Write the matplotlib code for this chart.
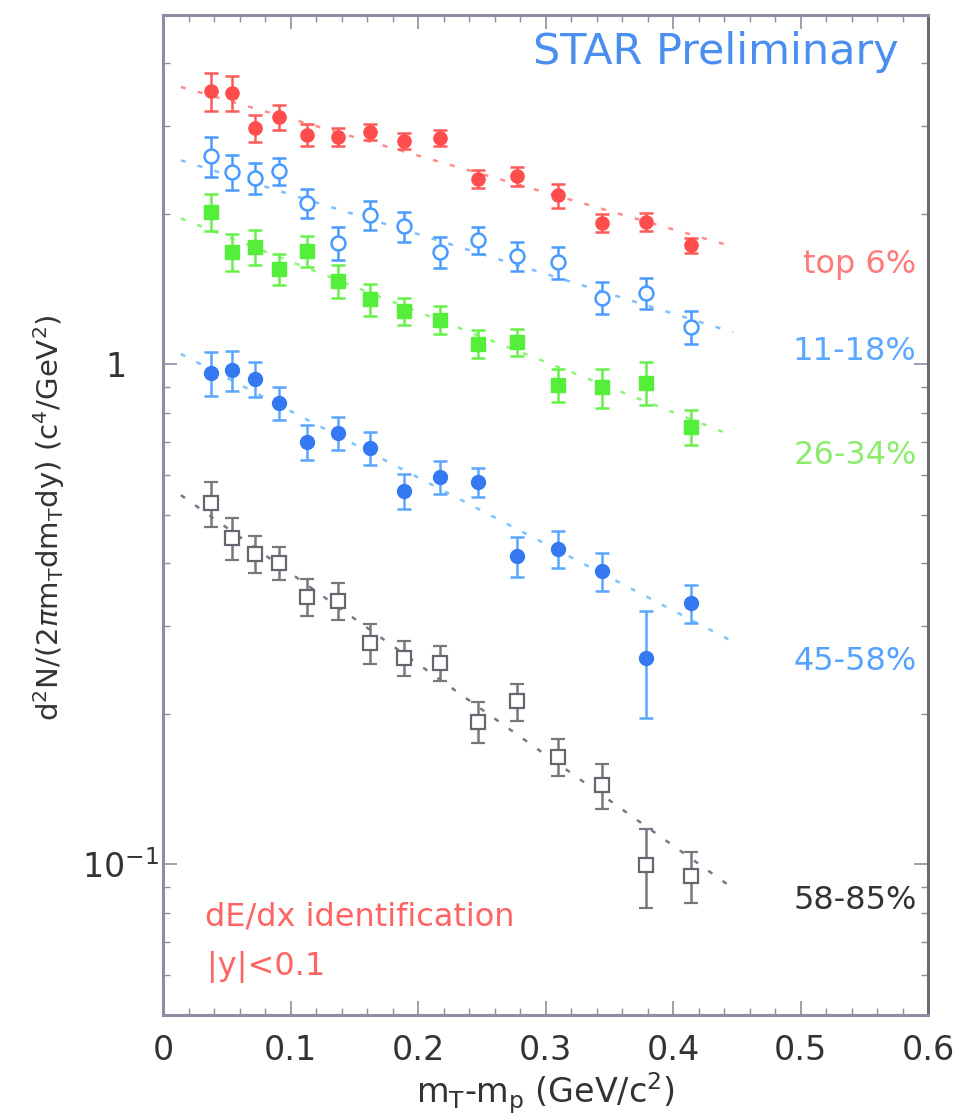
import matplotlib
matplotlib.use("Agg")
import matplotlib.pyplot as plt
from matplotlib.ticker import FixedLocator, NullFormatter, LogLocator

plt.rcParams['font.family'] = ['DejaVu Sans']
plt.rcParams['mathtext.fontset'] = 'dejavusans'

# transverse-mass bins, m_T - m_p (GeV/c^2)
mt = [0.038, 0.054, 0.072, 0.091, 0.113, 0.137, 0.162, 0.189, 0.217,
      0.247, 0.278, 0.310, 0.344, 0.379, 0.414]

# invariant yields per centrality class
top6 = [3.52, 3.49, 2.97, 3.13, 2.88, 2.85, 2.92, 2.80, 2.84,
        2.35, 2.38, 2.18, 1.92, 1.93, 1.73]
top6_err = [0.30, 0.28, 0.18, 0.18, 0.15, 0.12, 0.11, 0.10, 0.10,
            0.10, 0.10, 0.12, 0.08, 0.08, 0.06]

c11_18 = [2.61, 2.43, 2.36, 2.44, 2.10, 1.75, 1.99, 1.89, 1.68,
          1.77, 1.65, 1.60, 1.36, 1.39, 1.19]
c11_18_err = [0.24, 0.20, 0.17, 0.15, 0.14, 0.13, 0.13, 0.13, 0.12,
              0.11, 0.11, 0.12, 0.10, 0.10, 0.09]

c26_34 = [2.02, 1.68, 1.72, 1.55, 1.69, 1.47, 1.35, 1.28, 1.23,
          1.10, 1.11, 0.91, 0.90, 0.92, 0.75]
c26_34_err = [0.17, 0.14, 0.14, 0.11, 0.12, 0.11, 0.10, 0.08, 0.08,
              0.07, 0.07, 0.07, 0.08, 0.09, 0.06]

c45_58 = [0.962, 0.975, 0.935, 0.838, 0.700, 0.730, 0.681, 0.558, 0.596,
          0.582, 0.414, 0.428, 0.386, 0.259, 0.333]
c45_58_err = [0.098, 0.089, 0.076, 0.064, 0.057, 0.055, 0.052, 0.045, 0.045,
              0.039, 0.038, 0.037, 0.033, 0.063, 0.029]

c58_85 = [0.528, 0.450, 0.418, 0.401, 0.343, 0.337, 0.277, 0.259, 0.253,
          0.193, 0.212, 0.164, 0.144, 0.0998, 0.0948]
c58_85_err = [0.054, 0.043, 0.036, 0.030, 0.029, 0.029, 0.025, 0.021, 0.020,
              0.018, 0.018, 0.014, 0.015, 0.018, 0.011]

# exponential fits (straight lines on the log scale): end points
fit_x = [0.014, 0.447]
fit_top6 = [3.59, 1.72]
fit_11_18 = [2.56, 1.16]
fit_26_34 = [1.96, 0.72]
fit_45_58 = [1.05, 0.279]
fit_58_85 = [0.548, 0.0896]

class_labels = ["top 6%", "11-18%", "26-34%", "45-58%", "58-85%"]

x_ticks = [0, 0.1, 0.2, 0.3, 0.4, 0.5, 0.6]
x_tick_labels = ["0", "0.1", "0.2", "0.3", "0.4", "0.5", "0.6"]
y_ticks = [0.1, 1]
y_tick_labels = [r"$10^{-1}$", "1\u2007\u2008"]

fig = plt.figure(figsize=(9.59, 11.2), dpi=100)
ax = fig.add_axes([0.170, 0.0938, 0.7977, 0.8928])
ax.set_yscale('log')
ax.set_xlim(0, 0.6)
ax.set_ylim(0.05, 5)

series = [
    (top6, top6_err, fit_top6, dict(marker='o', ms=9.5, mfc='#ff4d4d', mec='#ff4d4d'),
     '#ff5a5a', '#ff8c8c', '#ff7a7a'),
    (c11_18, c11_18_err, fit_11_18, dict(marker='o', ms=10, mfc='white', mec='#4a9bff', mew=1.8),
     '#4a9bff', '#7fbfff', '#5aa8ff'),
    (c26_34, c26_34_err, fit_26_34, dict(marker='s', ms=10.5, mfc='#55ee3a', mec='#55ee3a'),
     '#66f04a', '#8ff27a', '#8cec6c'),
    (c45_58, c45_58_err, fit_45_58, dict(marker='o', ms=10, mfc='#3479f2', mec='#3479f2'),
     '#5aa5ff', '#7fc4ff', '#55a2ff'),
    (c58_85, c58_85_err, fit_58_85, dict(marker='s', ms=10, mfc='white', mec='#666670', mew=1.6),
     '#777780', '#777788', '#333333'),
]

for vals, errs, fit, mstyle, ecol, fcol, tcol in series:
    ax.plot(fit_x, fit, linestyle=(0, (2, 5)), color=fcol, lw=1.8, zorder=1)
    ax.errorbar(mt, vals, yerr=errs, linestyle='none', ecolor=ecol,
                elinewidth=1.8, capsize=5, capthick=1.8, zorder=3, **mstyle)

# centrality class labels at the right
label_y = [0.75, 0.663, 0.559, 0.353, 0.114]
for (vals, errs, fit, mstyle, ecol, fcol, tcol), lab, ly in zip(series, class_labels, label_y):
    ax.text(0.985, ly, lab, transform=ax.transAxes, ha='right', va='center',
            fontsize=23, color=tcol)

ax.text(0.962, 0.963, "STAR Preliminary", transform=ax.transAxes, ha='right',
        va='center', fontsize=31, color='#4a8ff0')
ax.text(0.055, 0.098, "dE/dx identification", transform=ax.transAxes, ha='left',
        va='center', fontsize=23, color='#ff6464')
ax.text(0.057, 0.048, "|y|<0.1", transform=ax.transAxes, ha='left',
        va='center', fontsize=23, color='#ff6464')

# axes styling
frame_col = '#8d8da3'
for sp in ax.spines.values():
    sp.set_color(frame_col)
    sp.set_linewidth(2.2)
ax.spines['right'].set_color('#6a6a78')

ax.xaxis.set_major_locator(FixedLocator(x_ticks))
ax.set_xticklabels(x_tick_labels)
ax.xaxis.set_minor_locator(FixedLocator([i * 0.02 for i in range(31)]))
ax.yaxis.set_major_locator(FixedLocator(y_ticks))
ax.set_yticklabels(y_tick_labels)
ax.yaxis.set_minor_locator(LogLocator(base=10, subs=range(2, 10)))
ax.yaxis.set_minor_formatter(NullFormatter())

ax.tick_params(which='both', direction='in', top=True, right=True, color=frame_col)
ax.tick_params(which='major', length=10, width=1.2)
ax.tick_params(which='minor', length=5, width=1.0)
ax.tick_params(axis='x', which='major', labelsize=24, pad=14, labelcolor='#333333')
ax.tick_params(axis='y', which='major', labelsize=24, pad=3, labelcolor='#333333')

ax.set_xlabel(r"m$_\mathrm{T}$-m$_\mathrm{p}$ (GeV/c$^2$)", fontsize=24,
              color='#333333', labelpad=2)
ax.set_ylabel(r"d$^2$N/(2$\pi$m$_\mathrm{T}$dm$_\mathrm{T}$dy) (c$^4$/GeV$^2$)",
              fontsize=21, color='#333333')
ax.yaxis.set_label_coords(-0.126, 0.497)

fig.savefig("out.png", dpi=100)
